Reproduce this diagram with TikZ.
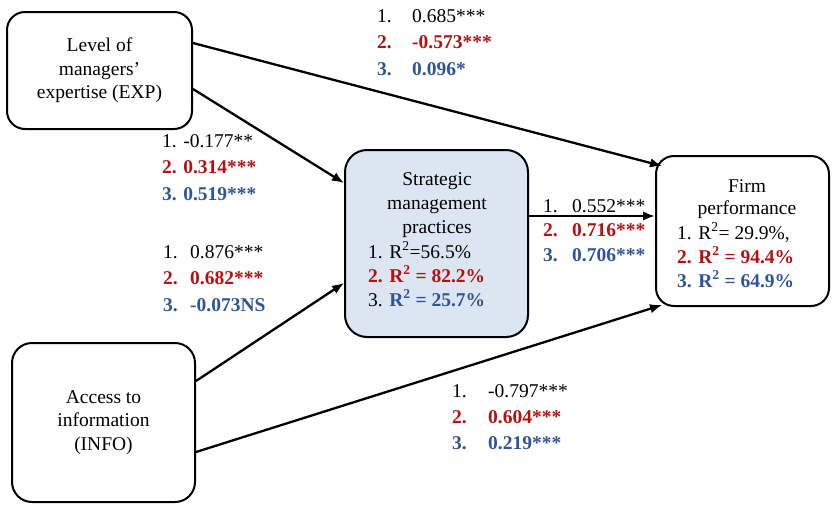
\documentclass[tikz,border=0pt]{standalone}
\usepackage{fontspec}
\setmainfont{Liberation Serif}
\usetikzlibrary{arrows.meta}
\definecolor{dred}{RGB}{178,18,18}
\definecolor{dblue}{RGB}{47,85,151}
\definecolor{boxfill}{RGB}{220,230,242}
\newcommand{\Rsq}{R\textsuperscript{2}}
\newcommand{\nr}[1]{\makebox[#1][l]}
\begin{document}
\begin{tikzpicture}[x=1pt,y=-1pt,
  varbox/.style={draw,line width=2pt,rounded corners=18pt,inner sep=0pt,
    align=center,font=\fontsize{19.5}{23.5}\selectfont},
  boxtext/.style={inner sep=0pt,font=\fontsize{19.5}{24}\selectfont},
  coef/.style={inner sep=0pt,anchor=base west,font=\fontsize{19.5}{26.5}\selectfont},
  path/.style={line width=2.3pt,-{Latex[length=12pt,width=9.5pt]}}]
\useasboundingbox (0,0) rectangle (833,504);

% latent variables
\node[varbox,minimum width=185pt,minimum height=117pt] (exp) at (99.5,70.5)
  {Level of\\managers'\\expertise (EXP)};
\node[varbox,minimum width=183pt,minimum height=159pt,rounded corners=20pt] (info) at (103.5,422.5)
  {Access to\\information\\(INFO)};
\node[varbox,fill=boxfill,minimum width=183pt,minimum height=187pt,rounded corners=22pt] (smp) at (436.5,243.5) {};
\node[varbox,minimum width=173pt,minimum height=150pt] (firm) at (742.5,231) {};

% text inside the mediator and outcome boxes
\node[boxtext,anchor=base] (smph) at (437,185)
  {\begin{tabular}[t]{@{}c@{}}Strategic\\management\\practices\end{tabular}};
\node[boxtext,anchor=base west] (smpr) at (368,258)
  {\begin{tabular}[t]{@{}l@{}}1. \Rsq=56.5\%\\
   \textcolor{dred}{\bfseries 2. \Rsq{} = 82.2\%}\\
   3. \textcolor{dblue}{\bfseries \Rsq{} = 25.7\%}\end{tabular}};
\node[boxtext,anchor=base,font=\fontsize{19.5}{22.5}\selectfont] (firmh) at (747,192)
  {\begin{tabular}[t]{@{}c@{}}Firm\\performance\end{tabular}};
\node[boxtext,anchor=base west] (firmr) at (677,239)
  {\begin{tabular}[t]{@{}l@{}}1. \Rsq= 29.9\%,\\
   \textcolor{dred}{\bfseries 2. \Rsq{} = 94.4\%}\\
   \textcolor{dblue}{\bfseries 3. \Rsq{} = 64.9\%}\end{tabular}};

% paths
\draw[path] ([yshift=27.5pt]exp.east) -- ([xshift=7pt,yshift=-11pt]firm.north west);
\draw[path] ([yshift=-18.5pt]exp.east) -- ([yshift=60.5pt]smp.west);
\draw[path] ([yshift=27.5pt]smp.east) -- ([yshift=15pt]firm.west);
\draw[path] ([yshift=41.5pt]info.east) -- ([yshift=-39.5pt]smp.west);
\draw[path] ([yshift=-29.5pt]info.east) -- ([xshift=7pt,yshift=2pt]firm.south west);

% path coefficients
\node[coef] (cExpFirm) at (377,22)
  {\begin{tabular}[t]{@{}l@{}}\nr{35pt}{1.}0.685***\\
   \textcolor{dred}{\bfseries\nr{35pt}{2.}-0.573***}\\
   \textcolor{dblue}{\bfseries\nr{35pt}{3.}0.096*}\end{tabular}};
\node[coef] (cExpSmp) at (162,147)
  {\begin{tabular}[t]{@{}l@{}}1. -0.177**\\
   \textcolor{dred}{\bfseries 2. 0.314***}\\
   \textcolor{dblue}{\bfseries 3. 0.519***}\end{tabular}};
\node[coef] (cInfoSmp) at (163,258)
  {\begin{tabular}[t]{@{}l@{}}\nr{27pt}{1.}0.876***\\
   \textcolor{dred}{\bfseries\nr{27pt}{2.}0.682***}\\
   \textcolor{dblue}{\bfseries\nr{27pt}{3.}-0.073NS}\end{tabular}};
\node[coef,font=\fontsize{19.5}{24.5}\selectfont] (cSmpFirm) at (543,212)
  {\begin{tabular}[t]{@{}l@{}}\nr{29pt}{1.}0.552***\\
   \textcolor{dred}{\bfseries\nr{29pt}{2.}0.716***}\\
   \textcolor{dblue}{\bfseries\nr{29pt}{3.}0.706***}\end{tabular}};
\node[coef,font=\fontsize{19.5}{26}\selectfont] (cInfoFirm) at (452,397)
  {\begin{tabular}[t]{@{}l@{}}\nr{36pt}{1.}-0.797***\\
   \textcolor{dred}{\bfseries\nr{36pt}{2.}0.604***}\\
   \textcolor{dblue}{\bfseries\nr{36pt}{3.}0.219***}\end{tabular}};
\end{tikzpicture}
\end{document}
